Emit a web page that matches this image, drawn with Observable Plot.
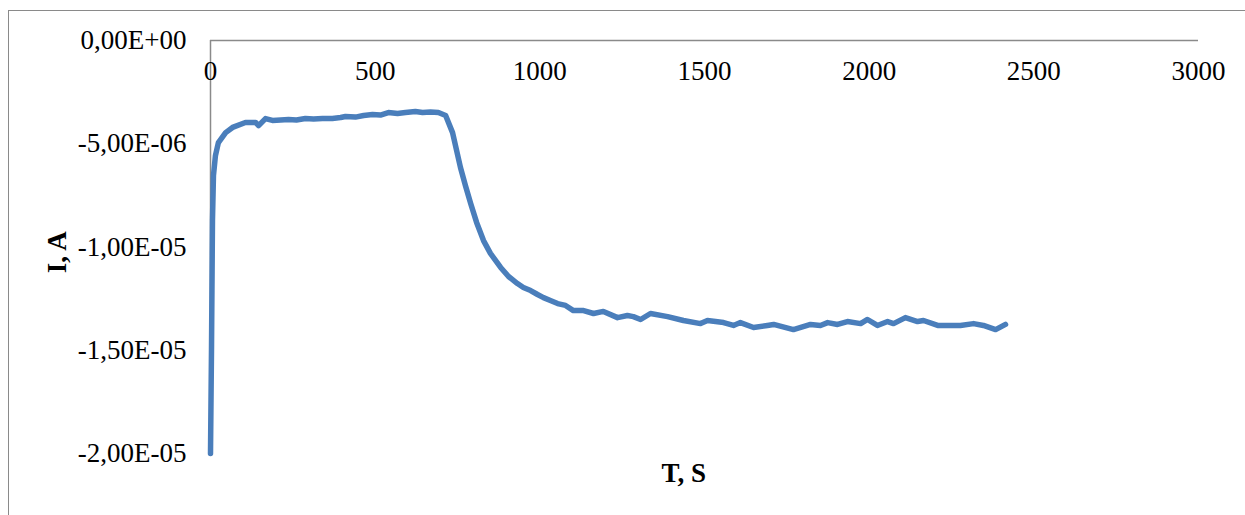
<!DOCTYPE html>
<html>
<head>
<meta charset="utf-8">
<script src="https://cdn.jsdelivr.net/npm/d3@7"></script>
<script src="https://cdn.jsdelivr.net/npm/@observablehq/plot@0.6"></script>
<style>
  html, body { margin: 0; padding: 0; background: #fff; overflow: hidden; }
  #wrap { position: relative; width: 1245px; height: 515px; }
  #border { position: absolute; left: 8px; top: 10px; width: 2000px; height: 1000px;
            border-left: 1.5px solid #8a8a8a; border-top: 1.5px solid #8a8a8a; }
  #chart { position: absolute; left: 0; top: 0; }
</style>
</head>
<body>
<div id="wrap"><div id="border"></div><div id="chart"></div></div>
<script>
// Time (s)
const timeS = [0, 3, 6, 9, 15, 24, 46, 67, 106, 137, 146, 167,
  188, 213, 237, 261, 288, 313, 340, 370, 395, 410, 440, 465, 492, 516, 540, 568, 592, 622, 644, 668, 692, 714, 735,
  759, 774, 790, 808, 829, 850, 881, 905, 932, 950, 972, 993, 1011, 1032, 1054, 1078, 1102, 1133, 1163, 1193,
  1236, 1266, 1284, 1306, 1336, 1388, 1436, 1488, 1509, 1558, 1588, 1609, 1649, 1691, 1710, 1770,
  1822, 1852, 1874, 1904, 1934, 1974, 1995, 2025, 2056, 2074, 2110, 2147, 2165, 2208, 2277, 2317, 2347, 2384, 2414];
// Current (µA)
const currentMicroA = [-20.00, -15.01, -8.72, -6.54, -5.57, -4.94, -4.46, -4.21, -3.97, -3.97, -4.12, -3.78,
  -3.87, -3.85, -3.83, -3.85, -3.78, -3.80, -3.78, -3.78, -3.73, -3.68, -3.71, -3.63, -3.58, -3.61, -3.49, -3.54, -3.49, -3.44, -3.49, -3.46, -3.49, -3.63, -4.46,
  -6.15, -7.02, -7.89, -8.81, -9.69, -10.31, -10.99, -11.43, -11.77, -11.96, -12.11, -12.30, -12.45, -12.59, -12.74, -12.83, -13.08, -13.08, -13.22, -13.12,
  -13.42, -13.32, -13.37, -13.51, -13.22, -13.37, -13.56, -13.71, -13.56, -13.66, -13.80, -13.66, -13.90, -13.80, -13.75, -14.00,
  -13.75, -13.80, -13.66, -13.75, -13.61, -13.71, -13.51, -13.80, -13.61, -13.71, -13.42, -13.61, -13.56, -13.80, -13.80, -13.71, -13.80, -14.00, -13.75];
const xTicks = [0, 500, 1000, 1500, 2000, 2500, 3000];
const yTicks = [0, -5e-6, -1e-5, -1.5e-5, -2e-5];
const yTickLabels = ["0,00E+00", "-5,00E-06", "-1,00E-05", "-1,50E-05", "-2,00E-05"];
const xTitle = "T, S";
const yTitle = "I, A";

const data = timeS.map((t, k) => ({t, i: currentMicroA[k] * 1e-6}));
const font = "'Liberation Serif', 'Times New Roman', serif";

const chart = Plot.plot({
  width: 1245,
  height: 515,
  marginLeft: 210,
  marginRight: 47,
  marginTop: 40,
  marginBottom: 62,
  style: {fontFamily: font, fontSize: "27px", color: "#000", background: "transparent"},
  x: {domain: [0, 3000], axis: null},
  y: {domain: [-2e-5, 0], axis: null},
  marks: [
    Plot.ruleY([0], {stroke: "#8a8a8a", strokeWidth: 1.5}),
    Plot.ruleX([0], {stroke: "#8a8a8a", strokeWidth: 1.5}),
    Plot.text(xTicks, {x: d => d, y: 0, dy: 31, text: d => String(d), fontSize: 27, fill: "#000"}),
    Plot.text(yTicks, {x: 0, y: d => d, dx: -24, textAnchor: "end",
      text: (d, i) => yTickLabels[i], fontSize: 27, fill: "#000"}),
    Plot.line(data, {x: "t", y: "i", stroke: "#4a7ebb", strokeWidth: 5.5,
      strokeLinejoin: "round", strokeLinecap: "round"}),
    Plot.text([xTitle], {x: 1437, y: -2.0e-5, dy: 20, text: d => d, fontWeight: "bold", fontSize: 27, fill: "#000"}),
    Plot.text([yTitle], {x: -465, y: -1.025e-5, text: d => d, rotate: -90, fontWeight: "bold", fontSize: 27, fill: "#000"})
  ]
});
document.getElementById("chart").appendChild(chart);
</script>
</body>
</html>
